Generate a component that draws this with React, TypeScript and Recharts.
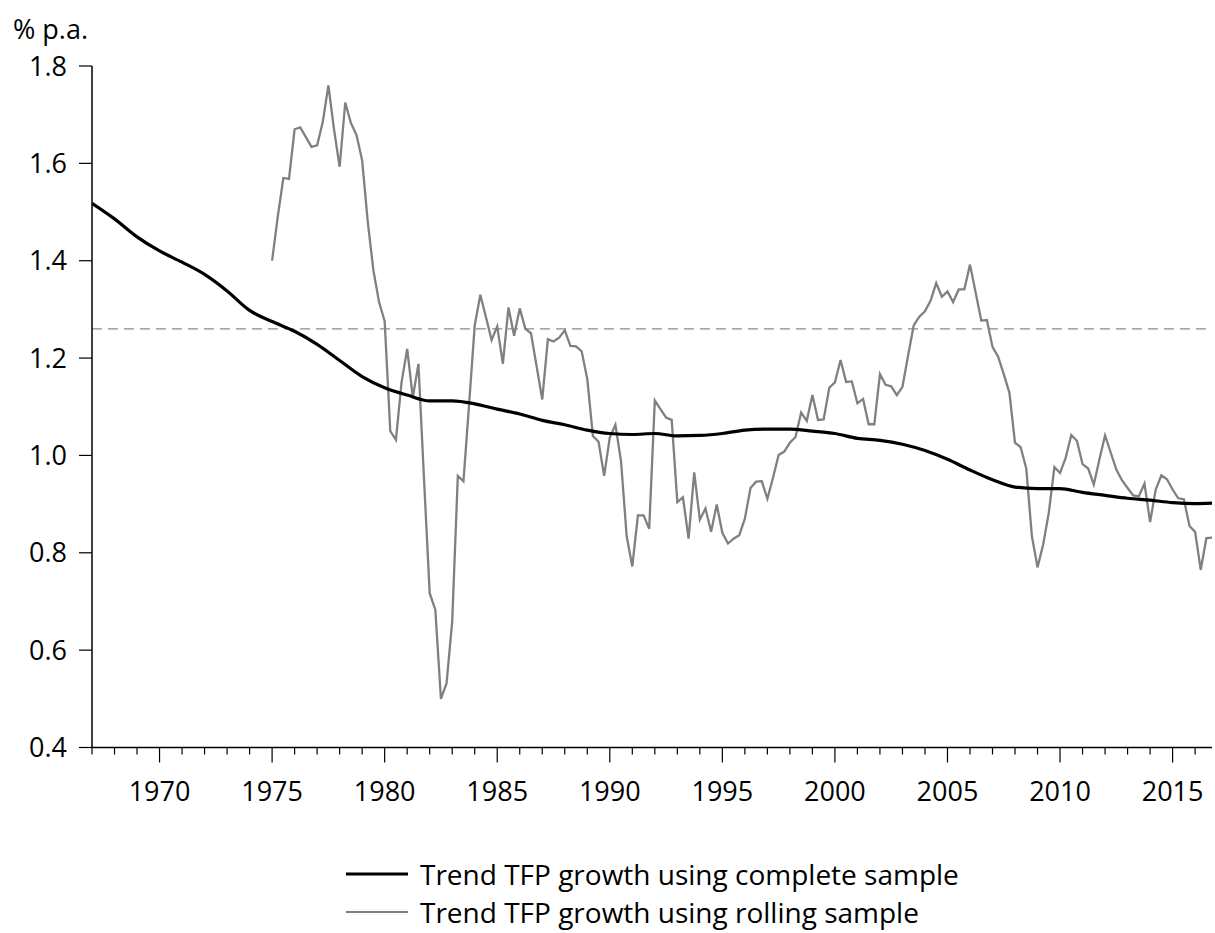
import React from 'react';
import {
  LineChart,
  Line,
  XAxis,
  YAxis,
  ReferenceLine,
  Legend,
} from 'recharts';

// Trend TFP growth, complete sample (annual readings)
const completeYears = [
  1967, 1968, 1969, 1970, 1971, 1972, 1973, 1974, 1975, 1976, 1977, 1978, 1979,
  1980, 1981, 1982, 1983, 1984, 1985, 1986, 1987, 1988, 1989, 1990, 1991, 1992,
  1993, 1994, 1995, 1996, 1997, 1998, 1999, 2000, 2001, 2002, 2003, 2004, 2005,
  2006, 2007, 2008, 2009, 2010, 2011, 2012, 2013, 2014, 2015, 2016, 2016.75,
];
const completeValues = [
  1.518, 1.486, 1.449, 1.42, 1.397, 1.372, 1.338, 1.298, 1.275, 1.255, 1.228,
  1.195, 1.162, 1.139, 1.124, 1.112, 1.112, 1.106, 1.095, 1.085, 1.072, 1.063,
  1.052, 1.045, 1.043, 1.045, 1.04, 1.041, 1.045, 1.052, 1.054, 1.054, 1.05,
  1.045, 1.035, 1.031, 1.023, 1.01, 0.992, 0.97, 0.95, 0.935, 0.932, 0.932,
  0.924, 0.918, 0.912, 0.908, 0.903, 0.901, 0.902,
];

// Trend TFP growth, rolling sample (quarterly, 1975Q1 onwards)
const rollingStartYear = 1975;
const rollingValues = [
  // 1975-1979
  1.4, 1.49, 1.57, 1.568, 1.67, 1.674, 1.654, 1.634, 1.637, 1.685, 1.76, 1.67,
  1.593, 1.725, 1.683, 1.658, 1.606, 1.48, 1.38, 1.315,
  // 1980-1984
  1.276, 1.05, 1.032, 1.15, 1.219, 1.119, 1.188, 0.95, 0.717, 0.683, 0.5, 0.532,
  0.659, 0.958, 0.947, 1.105, 1.267, 1.33, 1.284, 1.237,
  // 1985-1989
  1.265, 1.188, 1.304, 1.246, 1.302, 1.26, 1.251, 1.183, 1.115, 1.239, 1.234,
  1.242, 1.257, 1.225, 1.224, 1.214, 1.157, 1.04, 1.028, 0.958,
  // 1990-1994
  1.037, 1.063, 0.988, 0.834, 0.772, 0.877, 0.877, 0.849, 1.113, 1.095, 1.078,
  1.073, 0.904, 0.914, 0.829, 0.965, 0.868, 0.891, 0.843, 0.899,
  // 1995-1999
  0.841, 0.819, 0.829, 0.836, 0.87, 0.933, 0.946, 0.947, 0.911, 0.954, 1.001,
  1.008, 1.026, 1.038, 1.088, 1.071, 1.124, 1.073, 1.074, 1.139,
  // 2000-2004
  1.15, 1.196, 1.151, 1.152, 1.107, 1.116, 1.064, 1.064, 1.167, 1.145, 1.142,
  1.124, 1.141, 1.205, 1.267, 1.285, 1.296, 1.318, 1.354, 1.326,
  // 2005-2009
  1.337, 1.315, 1.341, 1.341, 1.392, 1.335, 1.277, 1.278, 1.223, 1.203, 1.167,
  1.129, 1.026, 1.017, 0.973, 0.834, 0.77, 0.817, 0.882, 0.976,
  // 2010-2014
  0.964, 0.995, 1.042, 1.03, 0.982, 0.973, 0.94, 0.992, 1.041, 1.006, 0.971,
  0.949, 0.933, 0.918, 0.916, 0.942, 0.863, 0.93, 0.959, 0.951,
  // 2015-2016
  0.93, 0.912, 0.91, 0.855, 0.843, 0.765, 0.83, 0.831,
];
const rollingQuarters = rollingValues.map((_, i) => rollingStartYear + i / 4);

const yearTicks = Array.from({ length: 50 }, (_, i) => 1967 + i);
const valueTicks = [0.4, 0.6, 0.8, 1.0, 1.2, 1.4, 1.6, 1.8];
const averageLevel = 1.26;

const seriesNames = [
  'Trend TFP growth using complete sample',
  'Trend TFP growth using rolling sample',
];

const completeData = completeYears.map((year, i) => ({
  year,
  complete: completeValues[i],
}));
const rollingData = rollingQuarters.map((year, i) => ({
  year,
  rolling: rollingValues[i],
}));

const FONT = "'Open Sans', sans-serif";

const YearTick = (props: any) => {
  const { x, y, payload } = props;
  const major = payload.value % 5 === 0;
  return (
    <g>
      <line
        x1={x}
        x2={x}
        y1={y}
        y2={y + (major ? 15 : 7)}
        stroke="#000"
        strokeWidth={1.2}
      />
      {major && (
        <text
          x={x}
          y={y + 53}
          textAnchor="middle"
          fontSize={27}
          fontFamily={FONT}
          fill="#000"
        >
          {payload.value}
        </text>
      )}
    </g>
  );
};

const LegendBox = () => (
  <div
    style={{
      boxSizing: 'border-box',
      height: 100,
      paddingTop: 22,
      paddingLeft: 346,
      fontFamily: FONT,
      fontSize: 28,
      color: '#000',
    }}
  >
    {seriesNames.map((name, i) => (
      <div
        key={name}
        style={{ display: 'flex', alignItems: 'center', height: 38 }}
      >
        <svg width={62} height={6}>
          <line
            x1={0}
            x2={62}
            y1={3}
            y2={3}
            stroke={i === 0 ? '#000' : '#808080'}
            strokeWidth={i === 0 ? 3 : 2.2}
          />
        </svg>
        <span style={{ marginLeft: 12, lineHeight: '38px' }}>{name}</span>
      </div>
    ))}
  </div>
);

const App: React.FC = () => {
  return (
    <div style={{ position: 'absolute', left: 0, top: 0 }}>
      {/* Unit label */}
      <div
        style={{
          position: 'absolute',
          left: 13,
          top: 15,
          fontFamily: FONT,
          fontSize: 27,
          lineHeight: '27px',
          color: '#000',
          whiteSpace: 'nowrap',
        }}
      >
        % p.a.
      </div>

      <LineChart
        width={1215}
        height={933}
        margin={{ top: 66, right: 3, bottom: 0, left: 0 }}
        style={{ fontFamily: FONT }}
      >
        <XAxis
          dataKey="year"
          type="number"
          domain={[1967, 2016.75]}
          allowDataOverflow
          ticks={yearTicks}
          interval={0}
          tickLine={false}
          tickSize={0}
          tickMargin={0}
          tick={<YearTick />}
          axisLine={{ stroke: '#000', strokeWidth: 1.5 }}
          height={85.5}
        />
        <YAxis
          type="number"
          domain={[0.4, 1.8]}
          ticks={valueTicks}
          interval={0}
          width={92}
          tickSize={13}
          tickMargin={12}
          tickLine={{ stroke: '#000', strokeWidth: 1.2 }}
          axisLine={{ stroke: '#000', strokeWidth: 1.5 }}
          tick={{ fill: '#000', fontSize: 27, fontFamily: FONT }}
          tickFormatter={(v: number) => v.toFixed(1)}
        />
        <ReferenceLine
          y={averageLevel}
          stroke="#8c8c8c"
          strokeWidth={1.3}
          strokeDasharray="10 6"
        />
        <Line
          data={rollingData}
          dataKey="rolling"
          name={seriesNames[1]}
          type="linear"
          stroke="#808080"
          strokeWidth={2.3}
          dot={false}
          isAnimationActive={false}
        />
        <Line
          data={completeData}
          dataKey="complete"
          name={seriesNames[0]}
          type="monotone"
          stroke="#000"
          strokeWidth={3.2}
          dot={false}
          isAnimationActive={false}
        />
        <Legend verticalAlign="bottom" content={<LegendBox />} />
      </LineChart>
    </div>
  );
};

export default App;
